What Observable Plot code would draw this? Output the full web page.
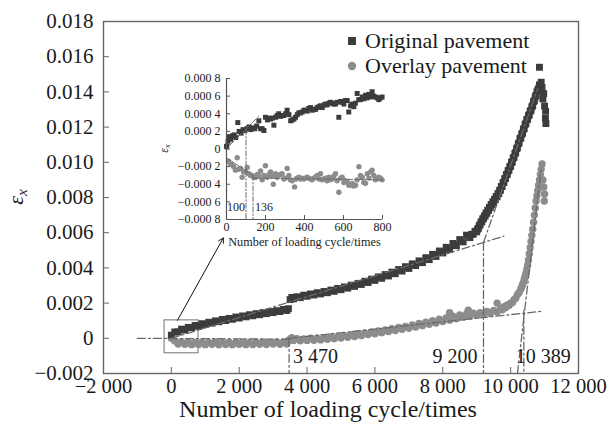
<!DOCTYPE html>
<html><head><meta charset="utf-8">
<script src="https://cdn.jsdelivr.net/npm/d3@7"></script>
<script src="https://cdn.jsdelivr.net/npm/@observablehq/plot@0.6"></script>
<style>
body{margin:0;background:#fff;}
#wrap{position:relative;width:609px;height:431px;}
#wrap svg{position:absolute;left:0;top:0;}
</style></head><body><div id="wrap"></div>
<script>
// ---------- data (cycles, strain) ----------
const seriesNames = ["Original pavement", "Overlay pavement"];
const xTitle = "Number of loading cycle/times";

const originalMain = [
[0,0.00018],[100,0.00036],[200,0.00036],[300,0.00052],[400,0.00047],[500,0.00062],[600,0.00060],[700,0.00073],[800,0.00068],[900,0.00083],
[1000,0.00078],[1100,0.00091],[1200,0.00086],[1300,0.00099],[1400,0.00094],[1500,0.00107],[1600,0.00101],[1700,0.00113],[1800,0.00108],[1900,0.00121],
[2000,0.00115],[2100,0.00127],[2200,0.00122],[2300,0.00134],[2400,0.00128],[2500,0.00140],[2600,0.00134],[2700,0.00146],[2800,0.00140],[2900,0.00152],
[3000,0.00146],[3100,0.00157],[3200,0.00152],[3300,0.00164],[3400,0.00158],[3450,0.00168],[3500,0.00220],[3550,0.00232],[3600,0.00224],[3700,0.00236],
[3800,0.00231],[3900,0.00245],[4000,0.00239],[4100,0.00252],[4200,0.00246],[4300,0.00259],[4400,0.00252],[4500,0.00266],[4600,0.00259],[4700,0.00274],
[4800,0.00267],[4900,0.00283],[5000,0.00276],[5100,0.00292],[5200,0.00285],[5300,0.00302],[5400,0.00295],[5500,0.00312],[5600,0.00306],[5700,0.00324],
[5800,0.00317],[5900,0.00336],[6000,0.00329],[6100,0.00349],[6200,0.00341],[6300,0.00362],[6400,0.00354],[6500,0.00376],[6600,0.00367],[6700,0.00391],
[6800,0.00382],[6900,0.00407],[7000,0.00397],[7100,0.00423],[7200,0.00413],[7300,0.00440],[7400,0.00430],[7500,0.00458],[7600,0.00447],[7700,0.00477],
[7800,0.00465],[7900,0.00496],[8000,0.00485],[8100,0.00517],[8200,0.00505],[8300,0.00539],[8400,0.00526],[8500,0.00561],[8600,0.00548],[8700,0.00586],
[8800,0.00572],[8850,0.00590],[8900,0.00592],[8950,0.00608],[9000,0.00605],[9025,0.00620],[9050,0.00625],[9075,0.00640],[9100,0.00645],[9125,0.00660],
[9150,0.00662],[9175,0.00678],[9200,0.00680],[9225,0.00695],[9250,0.00695],[9275,0.00712],[9300,0.00710],[9325,0.00728],[9350,0.00727],[9375,0.00744],
[9400,0.00743],[9425,0.00760],[9450,0.00758],[9475,0.00775],[9500,0.00773],[9525,0.00790],[9550,0.00788],[9575,0.00806],[9600,0.00804],[9625,0.00822],
[9650,0.00822],[9675,0.00840],[9700,0.00842],[9725,0.00862],[9750,0.00863],[9775,0.00885],[9800,0.00885],[9825,0.00907],[9850,0.00908],[9875,0.00930],
[9900,0.00932],[9925,0.00952],[9950,0.00955],[9975,0.00975],[10000,0.00978],[10025,0.01000],[10050,0.01002],[10075,0.01025],[10100,0.01028],[10125,0.01050],
[10150,0.01055],[10175,0.01078],[10200,0.01082],[10225,0.01105],[10250,0.01110],[10275,0.01135],[10300,0.01138],[10325,0.01160],[10350,0.01165],[10375,0.01188],
[10400,0.01192],[10425,0.01215],[10450,0.01220],[10475,0.01242],[10500,0.01245],[10525,0.01265],[10550,0.01270],[10575,0.01290],[10600,0.01295],[10625,0.01315],
[10650,0.01322],[10675,0.01345],[10700,0.01350],[10725,0.01372],[10750,0.01380],[10775,0.01400],[10800,0.01410],[10825,0.01420],[10850,0.01440],[10850,0.01540],
[10875,0.01405],[10900,0.01455],[10925,0.01425],[10950,0.01360],[10975,0.01390],[11000,0.01320],[11025,0.01250],[11040,0.01220],[11030,0.01290]
];

const overlayMain = [
[0,0.00000],[100,-0.00015],[200,-0.00032],[300,-0.00020],[400,-0.00034],[500,-0.00022],[600,-0.00036],[700,-0.00024],[800,-0.00035],[900,-0.00022],
[1000,-0.00036],[1100,-0.00023],[1200,-0.00034],[1300,-0.00021],[1400,-0.00037],[1500,-0.00024],[1600,-0.00035],[1700,-0.00022],[1800,-0.00036],[1900,-0.00023],
[2000,-0.00034],[2100,-0.00021],[2200,-0.00036],[2300,-0.00023],[2400,-0.00035],[2500,-0.00022],[2600,-0.00034],[2700,-0.00021],[2800,-0.00035],[2900,-0.00023],
[3000,-0.00033],[3100,-0.00021],[3200,-0.00034],[3300,-0.00022],[3400,-0.00032],[3450,-0.00012],[3500,-0.00005],[3550,0.00004],[3600,-0.00012],[3700,-0.00002],
[3800,-0.00014],[3900,-0.00003],[4000,-0.00012],[4100,0.00000],[4200,-0.00011],[4300,0.00001],[4400,-0.00009],[4500,0.00004],[4600,-0.00006],[4700,0.00007],
[4800,-0.00002],[4900,0.00011],[5000,0.00001],[5100,0.00015],[5200,0.00006],[5300,0.00020],[5400,0.00010],[5500,0.00025],[5600,0.00015],[5700,0.00030],
[5800,0.00021],[5900,0.00036],[6000,0.00026],[6100,0.00042],[6200,0.00032],[6300,0.00048],[6400,0.00038],[6500,0.00054],[6600,0.00044],[6700,0.00061],
[6800,0.00051],[6900,0.00068],[7000,0.00057],[7100,0.00076],[7200,0.00064],[7300,0.00084],[7400,0.00072],[7500,0.00092],[7600,0.00080],[7700,0.00100],
[7800,0.00087],[7900,0.00108],[8000,0.00095],[8100,0.00116],[8200,0.00103],[8200,0.00145],[8300,0.00125],[8400,0.00111],[8500,0.00133],[8600,0.00119],
[8700,0.00138],[8750,0.00160],[8800,0.00126],[8900,0.00142],[9000,0.00130],[9100,0.00146],[9200,0.00136],[9300,0.00152],[9400,0.00142],[9500,0.00158],
[9600,0.00150],[9600,0.00200],[9700,0.00168],[9750,0.00162],[9800,0.00180],[9850,0.00174],[9900,0.00190],[9950,0.00186],[10000,0.00200],[10050,0.00202],
[10100,0.00220],[10150,0.00228],[10200,0.00248],[10250,0.00260],[10300,0.00280],[10325,0.00290],[10350,0.00305],[10375,0.00315],[10400,0.00335],[10425,0.00350],
[10450,0.00370],[10475,0.00390],[10500,0.00415],[10525,0.00445],[10550,0.00480],[10575,0.00515],[10600,0.00550],[10625,0.00585],[10650,0.00620],[10675,0.00660],
[10700,0.00700],[10725,0.00740],[10750,0.00780],[10775,0.00810],[10800,0.00840],[10825,0.00870],[10850,0.00900],[10875,0.00930],[10900,0.00960],[10925,0.00990],
[10950,0.00900],[10975,0.00860],[11000,0.00820],[10990,0.00780]
];

const insetOriginal = [
[0,0.00003],[8,0.00009],[15,0.00014],[22,0.00011],[30,0.00015],[40,0.00016],[48,0.00013],[58,0.00030],[65,0.00020],[75,0.00018],
[85,0.00022],[95,0.00021],[105,0.00023],[115,0.00025],[125,0.00022],[135,0.00024],[145,0.00023],[155,0.00026],[166,0.00032],[175,0.00023],
[183,0.00023],[192,0.00021],[200,0.00036],[210,0.00033],[218,0.00035],[226,0.00034],[235,0.00035],[243,0.00027],[252,0.00036],[260,0.00038],
[268,0.00040],[278,0.00037],[286,0.00038],[294,0.00038],[303,0.00040],[311,0.00044],[320,0.00039],[329,0.00032],[337,0.00033],[346,0.00034],
[354,0.00036],[363,0.00039],[371,0.00041],[380,0.00041],[388,0.00042],[397,0.00044],[405,0.00044],[414,0.00043],[422,0.00046],[431,0.00047],
[440,0.00044],[448,0.00045],[457,0.00045],[465,0.00047],[474,0.00048],[482,0.00049],[491,0.00047],[500,0.00050],[508,0.00051],[516,0.00050],
[525,0.00052],[533,0.00053],[542,0.00052],[550,0.00051],[559,0.00051],[567,0.00053],[576,0.00036],[585,0.00054],[593,0.00053],[602,0.00051],
[610,0.00055],[619,0.00055],[627,0.00042],[636,0.00049],[644,0.00051],[653,0.00048],[661,0.00052],[670,0.00063],[678,0.00056],[687,0.00056],
[696,0.00059],[704,0.00057],[713,0.00061],[721,0.00058],[730,0.00062],[738,0.00059],[747,0.00065],[755,0.00060],[764,0.00059],[773,0.00058],
[781,0.00056],[790,0.00058],[798,0.00059]
];

const insetOverlay = [
[0,0.00002],[5,0.00005],[12,-0.00014],[20,-0.00017],[29,-0.00018],[37,-0.00020],[46,-0.00024],[55,-0.00010],[63,-0.00023],[72,-0.00022],
[80,-0.00032],[88,-0.00026],[97,-0.00026],[106,-0.00021],[115,-0.00028],[123,-0.00030],[132,-0.00030],[140,-0.00032],[149,-0.00032],[158,-0.00029],
[166,-0.00031],[175,-0.00025],[183,-0.00035],[192,-0.00030],[200,-0.00019],[209,-0.00032],[218,-0.00029],[226,-0.00026],[235,-0.00031],[240,-0.00040],
[251,-0.00028],[260,-0.00032],[268,-0.00030],[277,-0.00029],[285,-0.00028],[294,-0.00034],[302,-0.00033],[311,-0.00022],[320,-0.00030],[328,-0.00035],
[337,-0.00036],[349,-0.00043],[356,-0.00034],[363,-0.00033],[371,-0.00032],[380,-0.00034],[388,-0.00033],[397,-0.00034],[405,-0.00033],[413,-0.00032],
[422,-0.00033],[430,-0.00034],[439,-0.00035],[448,-0.00033],[456,-0.00032],[465,-0.00030],[474,-0.00034],[482,-0.00028],[490,-0.00035],[499,-0.00034],
[508,-0.00033],[516,-0.00036],[525,-0.00032],[533,-0.00035],[542,-0.00034],[550,-0.00031],[559,-0.00028],[567,-0.00036],[576,-0.00049],[585,-0.00033],
[593,-0.00032],[602,-0.00038],[610,-0.00036],[619,-0.00037],[627,-0.00041],[636,-0.00041],[645,-0.00039],[653,-0.00042],[662,-0.00041],[670,-0.00035],
[679,-0.00020],[687,-0.00030],[696,-0.00032],[704,-0.00038],[713,-0.00039],[722,-0.00028],[730,-0.00033],[739,-0.00026],[747,-0.00024],[756,-0.00030],
[764,-0.00035],[773,-0.00034],[781,-0.00032],[790,-0.00033],[798,-0.00035]
];

// dash-dot construction lines (cycles, strain) endpoints
const mainTrends = {
  ovPlateau:  [[-1000, 0.00000], [3470, -0.00005]],
  ovSecond:   [[3470, 0.00000], [10900, 0.00153]],
  ovSteep:    [[10200, -0.00200], [10900, 0.00970]],
  orFirst:    [[0, 0.00000], [9800, 0.00580]],
  orSteep:    [[9200, 0.00545], [10800, 0.01420]],
  v3470:      [[3470, 0.00000], [3470, -0.00200]],
  v9200:      [[9200, 0.00545], [9200, -0.00200]],
  v10389:     [[10389, 0.00160], [10389, -0.00200]]
};
const insetTrends = {
  orInit:  [[20, 0.00005], [165, 0.00037]],
  ovInit:  [[0, -0.00010], [136, -0.00030]],
  ovFlat:  [[136, -0.00033], [800, -0.00035]],
  v100:    [[100, 0.00022], [100, -0.00080]],
  v136:    [[136, -0.00030], [136, -0.00080]]
};
const markerCycles = [3470, 9200, 10389];
const markerLabels = ["3 470", "9 200", "10 389"];
const insetMarkerCycles = [100, 136];
const insetMarkerLabels = ["100", "136"];
const zoomBox = {x1: -200, x2: 800, y1: -0.00085, y2: 0.00102};
const zoomArrow = {x1: 180, y1: 0.00102, x2: 1530, y2: 0.0057};

const xTicks = [-2000, 0, 2000, 4000, 6000, 8000, 10000, 12000];
const xTickLabels = ["\u22122 000", "0", "2 000", "4 000", "6 000", "8 000", "10 000", "12 000"];
const yTicks = [-0.002, 0, 0.002, 0.004, 0.006, 0.008, 0.010, 0.012, 0.014, 0.016, 0.018];
const yTickLabels = ["\u22120.002", "0", "0.002", "0.004", "0.006", "0.008", "0.010", "0.012", "0.014", "0.016", "0.018"];
const insetXTicks = [0, 200, 400, 600, 800];
const insetXTickLabels = ["0", "200", "400", "600", "800"];
const insetYTicks = [-0.0008, -0.0006, -0.0004, -0.0002, 0, 0.0002, 0.0004, 0.0006, 0.0008];
const insetYTickLabels = ["\u22120.000 8", "\u22120.000 6", "\u22120.000 4", "\u22120.000 2", "0", "0.000 2", "0.000 4", "0.000 6", "0.000 8"];

// ---------- styling ----------
const serif = '"Liberation Serif","Times New Roman",serif';
const origColor = "#3c3c3c";
const overColor = "#8c8c8c";
const trendStyle = {stroke: "#6a6a6a", strokeWidth: 1.3, strokeDasharray: "8,3,2,3"};
const lab = (ticks, labels) => { const m = new Map(ticks.map((t, i) => [t, labels[i]])); return d => m.get(d); };
const rows = obj => Object.entries(obj).flatMap(([id, pts]) => pts.map(([x, y]) => ({id, x, y})));

const W = 609, H = 431, mL = 103, mR = 31, mT = 21, mB = 58;
const main = Plot.plot({
  width: W, height: H, marginLeft: mL, marginRight: mR, marginTop: mT, marginBottom: mB,
  style: {fontFamily: serif, fontSize: "21px", color: "#1a1a1a", background: "transparent", overflow: "visible"},
  x: {domain: [xTicks[0], xTicks[xTicks.length - 1]]},
  y: {domain: [yTicks[0], yTicks[yTicks.length - 1]]},
  marks: [
    Plot.rect([zoomBox], {x1: "x1", x2: "x2", y1: "y1", y2: "y2", fill: "none", stroke: "#8a8a8a", strokeWidth: 1.2}),
    Plot.dot(overlayMain, {x: d => d[0], y: d => d[1], r: 3.7, fill: overColor, stroke: "none"}),
    Plot.dot(originalMain, {x: d => d[0], y: d => d[1], symbol: "square", r: 3.9, fill: origColor, stroke: "none"}),
    Plot.line(rows(mainTrends), {x: "x", y: "y", z: "id", ...trendStyle}),
    Plot.arrow([zoomArrow], {x1: "x1", y1: "y1", x2: "x2", y2: "y2", stroke: "#111", strokeWidth: 1, headLength: 8}),
    Plot.text([0], {x: () => markerCycles[0], text: () => markerLabels[0], frameAnchor: "bottom", dy: -11, dx: 4, textAnchor: "start", fontSize: 20}),
    Plot.text([1], {x: () => markerCycles[1], text: () => markerLabels[1], frameAnchor: "bottom", dy: -11, dx: -6, textAnchor: "end", fontSize: 20}),
    Plot.text([2], {x: () => markerCycles[2], text: () => markerLabels[2], frameAnchor: "bottom", dy: -11, dx: -8, textAnchor: "start", fontSize: 20}),
    Plot.frame({stroke: "#666", strokeWidth: 1.4}),
    Plot.axisX({ticks: xTicks, tickFormat: lab(xTicks, xTickLabels), tickSize: -6, tickPadding: 11, label: null, stroke: "#666", fontSize: 20.5}),
    Plot.axisY({ticks: yTicks, tickFormat: lab(yTicks, yTickLabels), tickSize: -6, tickPadding: 16, label: null, stroke: "#666", fontSize: 21}),
    Plot.text([xTitle], {frameAnchor: "bottom", dy: 43, dx: -13, fontSize: 24})
  ]
});

const iW = 250, iH = 200, imL = 76, imR = 18, imT = 20, imB = 39, iLeft = 150, iTop = 58;
const inset = Plot.plot({
  width: iW, height: iH, marginLeft: imL, marginRight: imR, marginTop: imT, marginBottom: imB,
  style: {fontFamily: serif, fontSize: "12px", color: "#1a1a1a", background: "transparent", overflow: "visible"},
  x: {domain: [insetXTicks[0], insetXTicks[insetXTicks.length - 1]]},
  y: {domain: [insetYTicks[0], insetYTicks[insetYTicks.length - 1]]},
  marks: [
    Plot.dot(insetOverlay, {x: d => d[0], y: d => d[1], r: 2.7, fill: overColor, stroke: "none"}),
    Plot.dot(insetOriginal, {x: d => d[0], y: d => d[1], symbol: "square", r: 2.8, fill: origColor, stroke: "none"}),
    Plot.line(rows(insetTrends), {x: "x", y: "y", z: "id", stroke: "#6a6a6a", strokeWidth: 1, strokeDasharray: "5,2,1.5,2"}),
    Plot.text([0], {x: () => insetMarkerCycles[0], text: () => insetMarkerLabels[0], frameAnchor: "bottom", dy: -9, dx: -1, textAnchor: "end", fontSize: 12, fill: "#1a1a1a"}),
    Plot.text([1], {x: () => insetMarkerCycles[1], text: () => insetMarkerLabels[1], frameAnchor: "bottom", dy: -9, dx: 2, textAnchor: "start", fontSize: 12, fill: "#1a1a1a"}),
    Plot.ruleX([insetXTicks[0]], {stroke: "#555", strokeWidth: 1.2}),
    Plot.ruleY([insetYTicks[0]], {stroke: "#555", strokeWidth: 1.2}),
    Plot.axisX({ticks: insetXTicks, tickFormat: lab(insetXTicks, insetXTickLabels), tickSize: -4, tickPadding: 7, label: null, stroke: "#555"}),
    Plot.axisY({ticks: insetYTicks, tickFormat: lab(insetYTicks, insetYTickLabels), tickSize: -4, tickPadding: 10, label: null, stroke: "#555"}),
    Plot.text([xTitle], {frameAnchor: "bottom", dy: 26, fontSize: 12.3})
  ]
});

const wrap = document.getElementById("wrap");
wrap.appendChild(main);
inset.style.left = iLeft + "px";
inset.style.top = iTop + "px";
wrap.appendChild(inset);

// y-axis titles with subscripts
function epsLabel(svg, x, y, size) {
  const t = d3.select(svg).append("text")
    .attr("transform", `translate(${x},${y}) rotate(-90)`)
    .attr("text-anchor", "middle")
    .attr("font-family", serif).attr("font-size", size).attr("fill", "#1a1a1a");
  t.append("tspan").attr("font-style", "italic").text("\u03b5");
  t.append("tspan").attr("font-style", "italic").attr("font-size", size * 0.7).attr("dy", size * 0.2).text("x");
}
epsLabel(main, 23, (mT + H - mB) / 2, 22);
epsLabel(inset, 18, imT + (iH - imT - imB) / 2, 12);

// legend inside the main frame
const lg = d3.select(main).append("g").attr("font-family", serif).attr("font-size", 22)
  .attr("fill", "#1a1a1a").attr("text-anchor", "start");
lg.append("rect").attr("x", 348).attr("y", 37).attr("width", 8).attr("height", 8).attr("fill", origColor);
lg.append("text").attr("x", 365).attr("y", 48).text(seriesNames[0]);
lg.append("circle").attr("cx", 352).attr("cy", 66).attr("r", 4.2).attr("fill", overColor);
lg.append("text").attr("x", 365).attr("y", 73).text(seriesNames[1]);
</script></body></html>
